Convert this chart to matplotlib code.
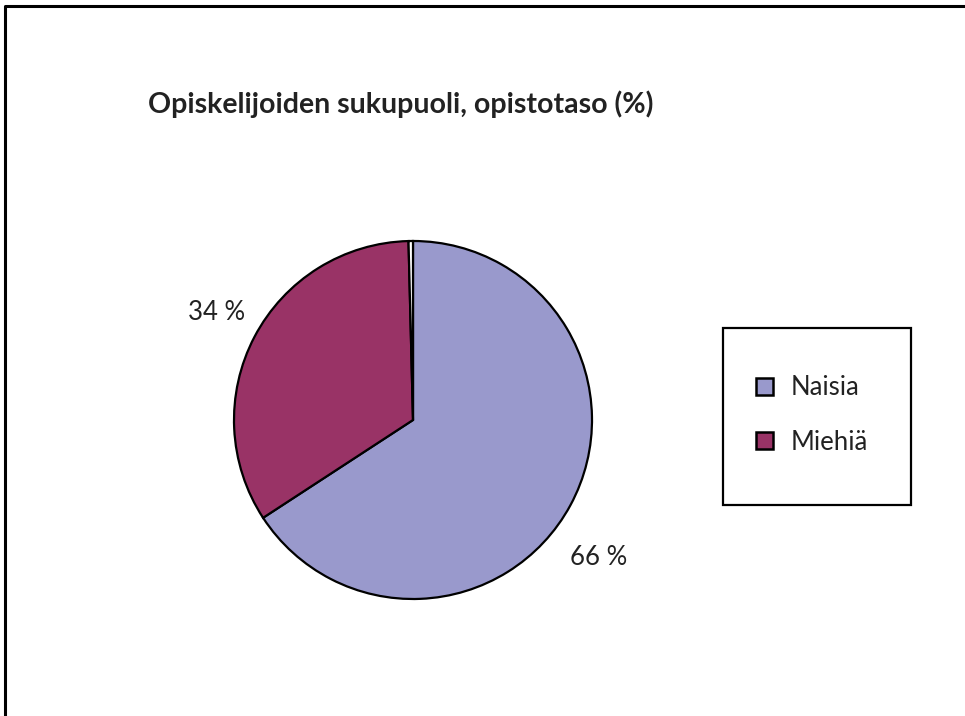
import matplotlib.pyplot as plt
from matplotlib.patches import Rectangle
from matplotlib.lines import Line2D
import numpy as np

plt.rcParams['font.family'] = ['Lato', 'DejaVu Sans']

# data
categories = ['Naisia', 'Miehiä', '']
values = [65.8, 33.8, 0.4]
colors = ['#9999CC', '#993366', '#FFFFFF']
title = 'Opiskelijoiden sukupuoli, opistotaso (%)'

W, H = 965, 716
fig = plt.figure(figsize=(W / 100, H / 100), dpi=100)
ax = fig.add_axes([0, 0, 1, 1])
ax.set_xlim(0, W)
ax.set_ylim(0, H)
ax.set_aspect('equal')
ax.axis('off')

# outer frame (only top and left visible)
ax.add_line(Line2D([5, 5, W + 10], [-10, H - 6, H - 6], color='black', lw=2.2))

cx, cy, r = 413, H - 420, 179
wedges, _ = ax.pie(values, colors=colors, startangle=90, counterclock=False,
                   center=(cx, cy), radius=r, frame=True,
                   wedgeprops=dict(edgecolor='black', linewidth=1.6))
ax.set_xlim(0, W)
ax.set_ylim(0, H)
ax.axis('off')

# percentage labels
offsets = [-8, -1]
dists = [1.29, 1.25]
for w, v, off, d in zip(wedges[:2], values[:2], offsets, dists):
    ang = np.deg2rad((w.theta1 + w.theta2) / 2 + off)
    ax.text(cx + d * r * np.cos(ang), cy + d * r * np.sin(ang),
            f'{round(v):.0f} %', ha='center', va='center', fontsize=18.5, color='#222222')

ax.text(401, H - 104, title, ha='center', va='center', fontsize=20.5,
        fontweight='bold', color='#222222')

# legend box
ax.add_patch(Rectangle((723, H - 505), 188, 177, fill=False, edgecolor='black', lw=1.6))
handles = [Rectangle((0, 0), 1, 1, facecolor=c, edgecolor='black', lw=1.8) for c in colors[:2]]
fig.legend(handles, categories[:2], loc='center left', bbox_to_anchor=(733 / W, 1 - 415 / H),
           frameon=False, fontsize=18.5, handlelength=0.65, handleheight=0.65,
           handletextpad=0.7, labelspacing=1.15, labelcolor='#222222')

fig.savefig('out.png', dpi=100)
